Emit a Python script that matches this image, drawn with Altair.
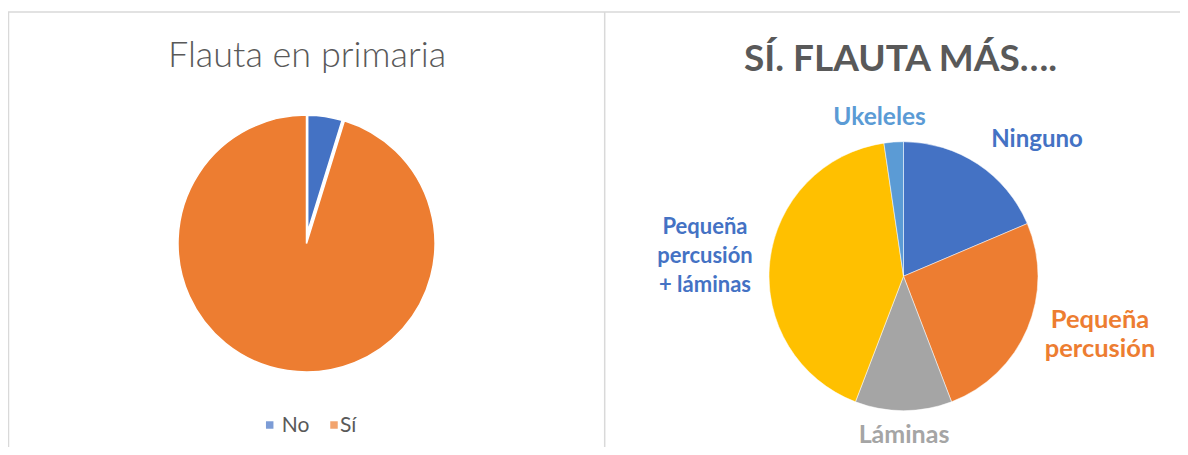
import altair as alt
import pandas as pd

# ---- data ----
left_cats = ["No", "Sí"]
left_vals = [2, 40]
left_colors = ["#4472C4", "#ED7D31"]

right_cats = ["Ninguno", "Pequeña percusión", "Láminas", "Pequeña percusión + láminas", "Ukeleles"]
right_vals = [8, 11, 5, 18, 1]
right_colors = ["#4472C4", "#ED7D31", "#A5A5A5", "#FFC000", "#5B9BD5"]

left_title = "Flauta en primaria"
right_title = "SÍ. FLAUTA MÁS…."

FONT = "Lato"
GRID = "#D9D9D9"
TXT = "#595959"

left_df = pd.DataFrame({"cat": left_cats, "v": left_vals, "idx": list(range(len(left_cats)))})
right_df = pd.DataFrame({"cat": right_cats, "v": right_vals, "idx": list(range(len(right_cats)))})
one = pd.DataFrame({"a": [0]})

# ---- pies ----
lscale = alt.Scale(domain=left_cats, range=left_colors)
pie_left = alt.Chart(left_df).mark_arc(stroke="white", strokeWidth=1.5).encode(
    theta=alt.Theta("v:Q", stack="normalize"),
    order=alt.Order("idx:Q"),
    color=alt.Color("cat:N", scale=lscale, legend=None),
    opacity=alt.when(alt.datum.cat == "No").then(alt.value(0)).otherwise(alt.value(1)),
    x=alt.value(298.5), y=alt.value(235.5), radius=alt.value(128.5),
)
pie_left_no = alt.Chart(left_df).mark_arc(stroke="white", strokeWidth=1.5).encode(
    theta=alt.Theta("v:Q", stack="normalize"),
    order=alt.Order("idx:Q"),
    color=alt.Color("cat:N", scale=lscale, legend=None),
    opacity=alt.when(alt.datum.cat == "No").then(alt.value(1)).otherwise(alt.value(0)),
    x=alt.value(299.7), y=alt.value(223.7), radius=alt.value(116.5),
)
pie_right = alt.Chart(right_df).mark_arc(stroke="white", strokeWidth=0.5).encode(
    theta=alt.Theta("v:Q", stack="normalize"),
    order=alt.Order("idx:Q"),
    color=alt.Color("cat:N", scale=alt.Scale(domain=right_cats, range=right_colors), legend=None),
    x=alt.value(895.5), y=alt.value(268.2), radius=alt.value(134.5),
)


def txt(text, x, y, size, color, weight="bold", align="center", lh=29):
    return alt.Chart(one).mark_text(
        text=text, font=FONT, fontSize=size, fontWeight=weight, color=color,
        align=align, baseline="alphabetic", lineHeight=lh,
    ).encode(x=alt.value(x), y=alt.value(y))


def rule(x, x2, y, y2):
    return alt.Chart(one).mark_rule(color=GRID, strokeWidth=1.5).encode(
        x=alt.value(x), x2=alt.value(x2), y=alt.value(y), y2=alt.value(y2))


borders = [rule(0, 1172, 4, 4), rule(0.5, 0.5, 4, 439), rule(596.7, 596.7, 4, 439)]

texts = [
    txt(left_title, 299, 58.7, 36, TXT, weight=300),
    txt(right_title, 892.5, 63, 37, TXT),
    txt(right_cats[4], 871.5, 117, 24.5, "#5B9BD5"),
    txt(right_cats[0], 1029, 138.7, 24, "#4472C4"),
    txt(["Pequeña", "percusión"], 1092, 320, 25.5, "#ED7D31"),
    txt(right_cats[2], 896, 435, 25, "#A5A5A5"),
    txt(["Pequeña", "percusión", "+ láminas"], 697, 226, 22, "#4472C4"),
]

legend = [
    alt.Chart(one).mark_square(size=56, color=left_colors[0]).encode(x=alt.value(261.7), y=alt.value(417)),
    txt(left_cats[0], 273.7, 424, 21, TXT, weight="normal", align="left"),
    alt.Chart(one).mark_square(size=56, color=left_colors[1]).encode(x=alt.value(326), y=alt.value(417)),
    txt(left_cats[1], 332, 424, 21, TXT, weight="normal", align="left"),
]

chart = alt.layer(*borders, pie_left, pie_left_no, pie_right, *texts, *legend).resolve_scale(
    color="independent", theta="independent"
).properties(
    width=1172, height=439, autosize="none", padding=0
).configure_view(stroke=None)

chart.save("out.html", embed_options={"renderer": "svg", "actions": False})
